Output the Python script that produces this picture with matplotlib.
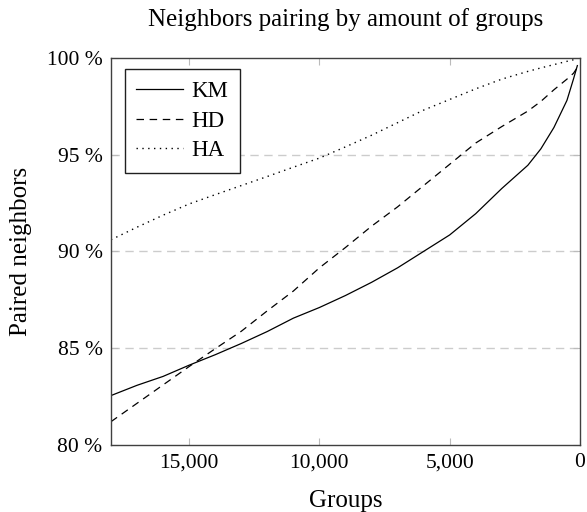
import matplotlib
matplotlib.use("Agg")
import matplotlib.pyplot as plt
from matplotlib.ticker import FuncFormatter

# Number of groups (x) and share of paired neighbors in percent (y)
groups = [18000, 17000, 16000, 15000, 14000, 13000, 12000, 11000, 10000,
          9000, 8000, 7000, 6000, 5000, 4000, 3000, 2000, 1500, 1000, 500, 250, 100]
km = [82.55, 83.08, 83.54, 84.12, 84.66, 85.24, 85.86, 86.55, 87.10,
      87.72, 88.40, 89.15, 90.00, 90.85, 91.95, 93.25, 94.45, 95.30, 96.40, 97.80, 98.90, 99.60]
hd = [81.20, 82.15, 83.10, 84.05, 84.97, 85.87, 86.93, 87.95, 89.15,
      90.20, 91.30, 92.30, 93.40, 94.50, 95.60, 96.45, 97.25, 97.75, 98.35, 98.90, 99.20, 99.50]
ha = [90.60, 91.25, 91.87, 92.45, 92.93, 93.40, 93.87, 94.35, 94.82,
      95.40, 96.00, 96.65, 97.30, 97.85, 98.40, 98.90, 99.30, 99.48, 99.65, 99.82, 99.90, 99.95]

x_ticks = [15000, 10000, 5000, 0]
y_ticks = [80, 85, 90, 95, 100]

plt.rcParams["font.family"] = ["Liberation Serif", "DejaVu Serif"]

fig = plt.figure(figsize=(5.87, 5.12), dpi=100)
ax = fig.add_axes([0.189, 0.131, 0.799, 0.756])

ax.plot(groups, km, color="black", lw=0.9, label="KM")
ax.plot(groups, hd, color="black", lw=0.9, linestyle=(0, (6, 4.5)), label="HD")
ax.plot(groups, ha, color="black", lw=1.0, linestyle=(0, (1, 3.2)), label="HA")

ax.set_xlim(18000, 0)
ax.set_ylim(80, 100)
ax.set_xticks(x_ticks)
ax.set_yticks(y_ticks)
ax.xaxis.set_major_formatter(FuncFormatter(lambda v, p: f"{int(v):,}"))
ax.yaxis.set_major_formatter(FuncFormatter(lambda v, p: f"{int(v)} %"))

for gy in [85, 90, 95]:
    ax.axhline(gy, color="#cccccc", lw=1.0, linestyle=(0, (6, 4)), zorder=0)

ax.tick_params(direction="in", length=5, color="#bbbbbb", width=0.8,
               top=True, right=True, labelsize=15.5, pad=6)
for sp in ax.spines.values():
    sp.set_color("#404040")
    sp.set_linewidth(1.0)

ax.set_title("Neighbors pairing by amount of groups", fontsize=18, pad=23)
ax.set_xlabel("Groups", fontsize=18, labelpad=13)
ax.set_ylabel("Paired neighbors", fontsize=18, labelpad=11)

leg = ax.legend(loc="upper left", bbox_to_anchor=(0.03, 0.97), fontsize=16.5,
                frameon=True, fancybox=False, handlelength=2.05,
                borderpad=0.5, labelspacing=0.38, handletextpad=0.35,
                borderaxespad=0.0)
leg.get_frame().set_edgecolor("#202020")
leg.get_frame().set_linewidth(1.0)
leg.get_frame().set_alpha(1)

fig.savefig("out.png", dpi=100)
